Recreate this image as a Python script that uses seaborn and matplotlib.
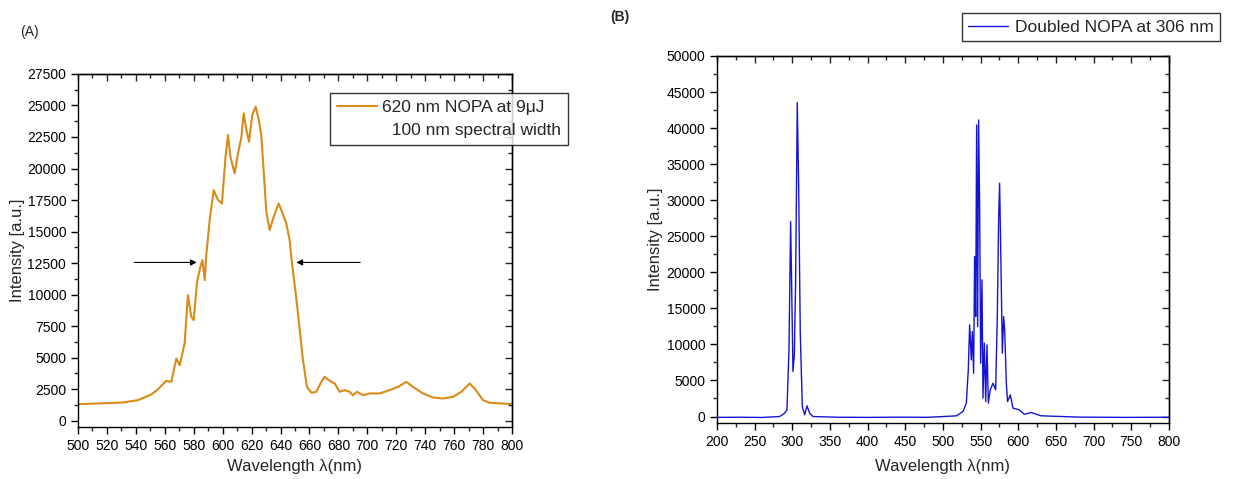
import matplotlib
matplotlib.use("Agg")
import matplotlib.pyplot as plt
from matplotlib.ticker import MultipleLocator
from matplotlib.lines import Line2D
import seaborn as sns
import pandas as pd

# ---- Panel A data: 620 nm NOPA spectrum ----
wl_a = [500, 531, 541.5, 550.7, 554.6, 561, 564.5, 568, 570.3, 573.7, 576, 578.3, 580,
        582.3, 584.6, 586, 587.6, 588.7, 591, 593.8, 596.8, 599.5, 602, 603.7, 605.3,
        608.3, 610.6, 613, 614.5, 616.4, 618.2, 620.5, 622.8, 625, 626.7, 628, 630.2,
        632.5, 635.3, 638.7, 641, 644, 646.3, 648.2, 650.5, 652.8, 655.5, 658.3, 661.3,
        664.7, 668.2, 670.5, 674, 677.4, 680.9, 684.3, 687.8, 690, 692.9, 697, 701.6,
        708.5, 715.4, 721.2, 727, 731.6, 738.5, 745.4, 752.3, 759.2, 765, 770.7, 774.2,
        780, 784.6, 793.8, 800]
int_a = [1310, 1440, 1630, 2080, 2420, 3160, 3080, 4930, 4400, 6120, 9960, 8240, 7980,
         11020, 12210, 12740, 11150, 13140, 15910, 18290, 17500, 17230, 20940, 22660, 20940,
         19620, 21200, 22520, 24380, 23060, 22130, 24250, 24910, 23850, 22660, 20410, 16570,
         15120, 16180, 17230, 16570, 15650, 14320, 12210, 10090, 7710, 4800, 2680, 2210,
         2290, 3080, 3480, 3160, 2950, 2290, 2420, 2290, 2020, 2290, 2020, 2160,
         2160, 2420, 2680, 3080, 2680, 2160, 1840, 1760, 1890, 2290, 2950, 2550,
         1630, 1420, 1360, 1310]
label_a = "620 nm NOPA at 9\u03bcJ"
label_a2 = "  100 nm spectral width"

# ---- Panel B data: doubled NOPA spectrum ----
wl_b = [200, 230, 260, 283.2, 289.8, 292.9, 295.6, 297.8, 299.1, 300.9, 302.7, 304.4,
        306.6, 308.4, 310.6, 313.3, 316.4, 319.5, 323, 327.4, 360, 400, 440, 480, 517.7,
        526.5, 531, 533.6, 535.4, 537.6, 538.9, 540.7, 542, 543.4, 544.7, 546, 547.3,
        548.7, 550, 551.8, 553.1, 554.9, 556.7, 558.4, 560.2, 562.8, 566.4, 569.9, 572.1,
        573.9, 575.2, 577, 578.8, 580.5, 581.9, 584.1, 585.7, 589.4, 592.9, 601.3, 608,
        617, 630, 680, 740, 800]
int_b = [-120, -100, -130, 0, 460, 920, 9240, 27030, 18480, 6240, 8550, 18480,
         43530, 32350, 11550, 1390, 230, 1480, 460, 0, -100, -120, -90, -110, 90,
         690, 1850, 6470, 12710, 7860, 11780, 6000, 22180, 13860, 40430, 12480, 41130,
         28650, 7390, 18950, 2540, 10170, 2080, 9940, 1850, 3700, 4620, 3700, 13860,
         27730, 32350, 20800, 8780, 13860, 12010, 4620, 2080, 3000, 1160, 930, 300,
         560, 100, -80, -120, -100]
label_b = "Doubled NOPA at 306 nm"

sns.set_style("ticks")
plt.rcParams["font.family"] = ["Liberation Sans", "DejaVu Sans"]
plt.rcParams["axes.linewidth"] = 1.0

fig = plt.figure(figsize=(12.46, 4.79), dpi=100)
axA = fig.add_axes([0.0626, 0.1086, 0.3483, 0.7370])
axB = fig.add_axes([0.5754, 0.1169, 0.3628, 0.7662])

dfA = pd.DataFrame({"wl": wl_a, "I": int_a})
dfB = pd.DataFrame({"wl": wl_b, "I": int_b})
sns.lineplot(data=dfA, x="wl", y="I", ax=axA, color="#DA8A17", lw=1.5, label=label_a)
sns.lineplot(data=dfB, x="wl", y="I", ax=axB, color="#1414D2", lw=1.0, label=label_b)


def style(ax, xlim, ylim, xmaj, ymaj):
    ax.set_xlim(*xlim)
    ax.set_ylim(*ylim)
    ax.xaxis.set_major_locator(MultipleLocator(xmaj))
    ax.xaxis.set_minor_locator(MultipleLocator(xmaj / 2))
    ax.yaxis.set_major_locator(MultipleLocator(ymaj))
    ax.yaxis.set_minor_locator(MultipleLocator(ymaj / 2))
    ax.tick_params(which="major", direction="out", length=5, width=1, labelsize=10,
                   colors="black", top=False, right=False)
    ax.tick_params(which="minor", direction="out", length=3, width=1,
                   top=False, right=False)
    for s in ax.spines.values():
        s.set_color("black")
        s.set_visible(True)
    # inward ticks on top and right
    sx = ax.secondary_xaxis("top")
    sx.xaxis.set_major_locator(MultipleLocator(xmaj))
    sx.xaxis.set_minor_locator(MultipleLocator(xmaj / 2))
    sx.tick_params(which="major", direction="in", length=5, width=1, labeltop=False)
    sx.tick_params(which="minor", direction="in", length=3, width=1)
    sy = ax.secondary_yaxis("right")
    sy.yaxis.set_major_locator(MultipleLocator(ymaj))
    sy.yaxis.set_minor_locator(MultipleLocator(ymaj / 2))
    sy.tick_params(which="major", direction="in", length=5, width=1, labelright=False)
    sy.tick_params(which="minor", direction="in", length=3, width=1)
    ax.set_xlabel("Wavelength \u03bb(nm)", fontsize=12)
    ax.set_ylabel("Intensity [a.u.]", fontsize=12)


style(axA, (500, 800), (-500, 27500), 20, 2500)
style(axB, (200, 800), (-900, 50000), 50, 5000)
axA.yaxis.set_label_coords(-0.122, 0.5)
axA.xaxis.set_label_coords(0.5, -0.09)
axB.yaxis.set_label_coords(-0.12, 0.5)
axB.xaxis.set_label_coords(0.5, -0.097)

# FWHM arrows
arrow = dict(arrowstyle="-|>", color="black", lw=0.8, mutation_scale=9)
axA.annotate("", xy=(584, 12550), xytext=(537, 12550), arrowprops=arrow)
axA.annotate("", xy=(649, 12550), xytext=(697, 12550), arrowprops=arrow)

# legends
hA = axA.get_legend_handles_labels()[0][0]
blank = Line2D([], [], linestyle="none")
legA = axA.legend([hA, blank], [label_a, label_a2], loc="upper left",
                  bbox_to_anchor=(0.265, 0.806),
                  bbox_transform=fig.transFigure, borderaxespad=0, fancybox=False,
                  frameon=True, edgecolor="black", fontsize=12.5, handlelength=2.3,
                  borderpad=0.4, handletextpad=0.3, labelspacing=0.45)
legA.get_frame().set_linewidth(1.0)
legB = axB.legend(loc="upper left", bbox_to_anchor=(0.772, 0.972),
                  bbox_transform=fig.transFigure, borderaxespad=0, fancybox=False,
                  frameon=True, edgecolor="black", fontsize=12.5, handlelength=2.3,
                  borderpad=0.35, handletextpad=0.4)
legB.get_frame().set_linewidth(1.0)

fig.text(0.024, 0.933, "(A)", fontsize=10, ha="center", va="center")
fig.text(0.4976, 0.9645, "(B)", fontsize=10, fontweight="bold", ha="center", va="center")

fig.savefig("out.png", dpi=100)
